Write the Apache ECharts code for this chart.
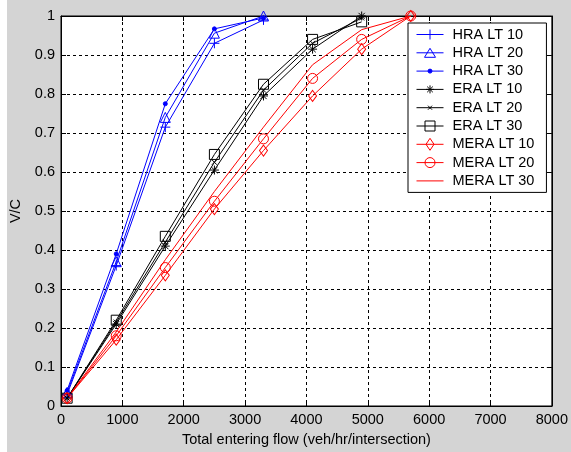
<!DOCTYPE html>
<html lang="en" style="height: 100%">
  <head>
    <meta charset="utf-8" />
  </head>
  <body style="height: 100%; margin: 0">
    <div id="container" style="width: 571px; height: 452px"></div>

    <script
      type="text/javascript"
      src="https://cdn.jsdelivr.net/npm/echarts@6/dist/echarts.min.js"
    ></script>

    <script type="text/javascript">
      // flows (veh/hr/intersection) and V/C values
      var hraFlow = [100, 900, 1700, 2500, 3300];
      var hraLt10 = [0.03, 0.36, 0.715, 0.93, 0.99];
      var hraLt20 = [0.035, 0.37, 0.74, 0.956, 1.0];
      var hraLt30 = [0.04, 0.39, 0.775, 0.967, 0.995];

      var eraFlow = [100, 900, 1700, 2500, 3300, 4100, 4900];
      var eraLt10 = [0.02, 0.21, 0.41, 0.605, 0.795, 0.915, 1.0];
      var eraLt20 = [0.02, 0.215, 0.42, 0.625, 0.81, 0.93, 0.995];
      var eraLt30 = [0.02, 0.22, 0.435, 0.645, 0.825, 0.94, 0.985];

      var meraFlow = [100, 900, 1700, 2500, 3300, 4100, 4900, 5700];
      var meraLt10 = [0.02, 0.17, 0.335, 0.505, 0.655, 0.795, 0.915, 1.0];
      var meraLt20 = [0.02, 0.18, 0.355, 0.525, 0.685, 0.84, 0.94, 1.0];
      var meraLt30 = [0.02, 0.19, 0.375, 0.55, 0.715, 0.875, 0.965, 1.0];

      // marker shapes (plot)
      var PLUS = "path://M0,5L10,5M5,0L5,10";
      var STAR = "path://M0,5L10,5M5,0L5,10M1.5,1.5L8.5,8.5M1.5,8.5L8.5,1.5";
      var CROSS = "path://M0,0L10,10M0,10L10,0";

      // legend icons: line + marker in a 27x12 box (corners pinned with moveTo)
      var BOX = "path://M0,0M27,12M0,6L27,6";
      var legendIcons = {
        plus: BOX + "M13.5,1L13.5,11",
        triangle: BOX + "M13.5,1.5L19,10.5L8,10.5Z",
        dot: BOX + "M15.5,6A2,2,0,1,1,11.5,6A2,2,0,1,1,15.5,6Z",
        star: BOX + "M13.5,2L13.5,10M10.7,3.2L16.3,8.8M10.7,8.8L16.3,3.2M9.5,6L17.5,6",
        cross: BOX + "M11.5,4L15.5,8M11.5,8L15.5,4",
        square: BOX + "M8.5,1L18.5,1L18.5,11L8.5,11Z",
        diamond: BOX + "M13.5,0L17.5,6L13.5,12L9.5,6Z",
        circle: BOX + "M18.5,6A5,5,0,1,1,8.5,6A5,5,0,1,1,18.5,6Z",
        none: BOX,
      };

      function pairs(xs, ys) {
        return xs.map(function (x, i) {
          return [x, ys[i]];
        });
      }

      function line(name, xs, ys, color, symbol, size, filled) {
        return {
          name: name,
          type: "line",
          data: pairs(xs, ys),
          symbol: symbol,
          symbolSize: size,
          showSymbol: symbol !== "none",
          color: color,
          lineStyle: { color: color, width: 1 },
          itemStyle: {
            color: filled ? color : "transparent",
            borderColor: color,
            borderWidth: 1,
          },
          emphasis: { disabled: true },
          animation: false,
          z: 3,
        };
      }

      function legendItem(name, icon, color, filled) {
        return {
          name: name,
          icon: legendIcons[icon],
          itemStyle: {
            color: filled ? color : "transparent",
            borderColor: color,
            borderWidth: 1,
          },
        };
      }

      var dom = document.getElementById("container");
      var myChart = echarts.init(dom, null, { renderer: "canvas" });

      var font = "Arial, 'Liberation Sans', sans-serif";
      var fs = 14.5;
      var gridLine = { show: true, lineStyle: { color: "#000", type: [3, 3], width: 1 } };

      var option = {
        backgroundColor: "#d4d4d4",
        graphic: [
          {
            type: "rect",
            shape: { x: 0, y: 0, width: 7, height: 452 },
            style: { fill: "#fff" },
            silent: true,
          },
        ],
        grid: {
          left: 60,
          right: 15,
          top: 16,
          bottom: 44,
          show: true,
          backgroundColor: "#fff",
          borderColor: "#000",
          borderWidth: 1,
        },
        legend: {
          orient: "vertical",
          left: 408,
          top: 23,
          backgroundColor: "#fff",
          borderColor: "#000",
          borderWidth: 1,
          borderRadius: 0,
          padding: [4, 12, 4, 8],
          itemWidth: 27,
          itemHeight: 12,
          itemGap: 3.3,
          symbolKeepAspect: true,
          textStyle: { fontFamily: font, fontSize: fs, color: "#000", padding: [0, 0, 0, 4] },
          data: [
            legendItem("HRA LT 10", "plus", "#0000ff"),
            legendItem("HRA LT 20", "triangle", "#0000ff"),
            legendItem("HRA LT 30", "dot", "#0000ff", true),
            legendItem("ERA LT 10", "star", "#000000"),
            legendItem("ERA LT 20", "cross", "#000000"),
            legendItem("ERA LT 30", "square", "#000000"),
            legendItem("MERA LT 10", "diamond", "#ff0000"),
            legendItem("MERA LT 20", "circle", "#ff0000"),
            legendItem("MERA LT 30", "none", "#ff0000"),
          ],
        },
        xAxis: [
          {
            type: "value",
            min: 0,
            max: 8000,
            interval: 1000,
            name: "Total entering flow (veh/hr/intersection)",
            nameLocation: "middle",
            nameGap: 26,
            nameTextStyle: { fontFamily: font, fontSize: fs, color: "#000" },
            axisLine: { show: true, onZero: false, lineStyle: { color: "#000" } },
            axisTick: { show: true, inside: true, length: 5, lineStyle: { color: "#000" } },
            axisLabel: {
              fontFamily: font,
              fontSize: fs,
              color: "#000",
              margin: 6,
              formatter: function (v) {
                return String(v);
              },
            },
            splitLine: gridLine,
          },
          {
            type: "value",
            position: "top",
            min: 0,
            max: 8000,
            interval: 1000,
            axisLine: { show: true, onZero: false, lineStyle: { color: "#000" } },
            axisTick: { show: true, inside: true, length: 5, lineStyle: { color: "#000" } },
            axisLabel: { show: false },
            splitLine: { show: false },
          },
        ],
        yAxis: [
          {
            type: "value",
            min: 0,
            max: 1,
            interval: 0.1,
            name: "V/C",
            nameLocation: "middle",
            nameGap: 38,
            nameTextStyle: { fontFamily: font, fontSize: fs, color: "#000" },
            axisLine: { show: true, onZero: false, lineStyle: { color: "#000" } },
            axisTick: { show: true, inside: true, length: 5, lineStyle: { color: "#000" } },
            axisLabel: {
              fontFamily: font,
              fontSize: fs,
              color: "#000",
              margin: 6,
              formatter: function (v) {
                return String(Number(v.toFixed(1)));
              },
            },
            splitLine: gridLine,
          },
          {
            type: "value",
            position: "right",
            min: 0,
            max: 1,
            interval: 0.1,
            axisLine: { show: true, onZero: false, lineStyle: { color: "#000" } },
            axisTick: { show: true, inside: true, length: 5, lineStyle: { color: "#000" } },
            axisLabel: { show: false },
            splitLine: { show: false },
          },
        ],
        series: [
          line("HRA LT 10", hraFlow, hraLt10, "#0000ff", PLUS, 10, false),
          line("HRA LT 20", hraFlow, hraLt20, "#0000ff", "triangle", 10, false),
          line("HRA LT 30", hraFlow, hraLt30, "#0000ff", "circle", 4, true),
          line("ERA LT 10", eraFlow, eraLt10, "#000000", STAR, 9, false),
          line("ERA LT 20", eraFlow, eraLt20, "#000000", CROSS, 5, false),
          line("ERA LT 30", eraFlow, eraLt30, "#000000", "rect", 10, false),
          line("MERA LT 10", meraFlow, meraLt10, "#ff0000", "diamond", [8, 11], false),
          line("MERA LT 20", meraFlow, meraLt20, "#ff0000", "circle", 10, false),
          line("MERA LT 30", meraFlow, meraLt30, "#ff0000", "none", 0, false),
        ],
      };

      myChart.setOption(option);
      window.addEventListener("resize", myChart.resize);
    </script>
  </body>
</html>
